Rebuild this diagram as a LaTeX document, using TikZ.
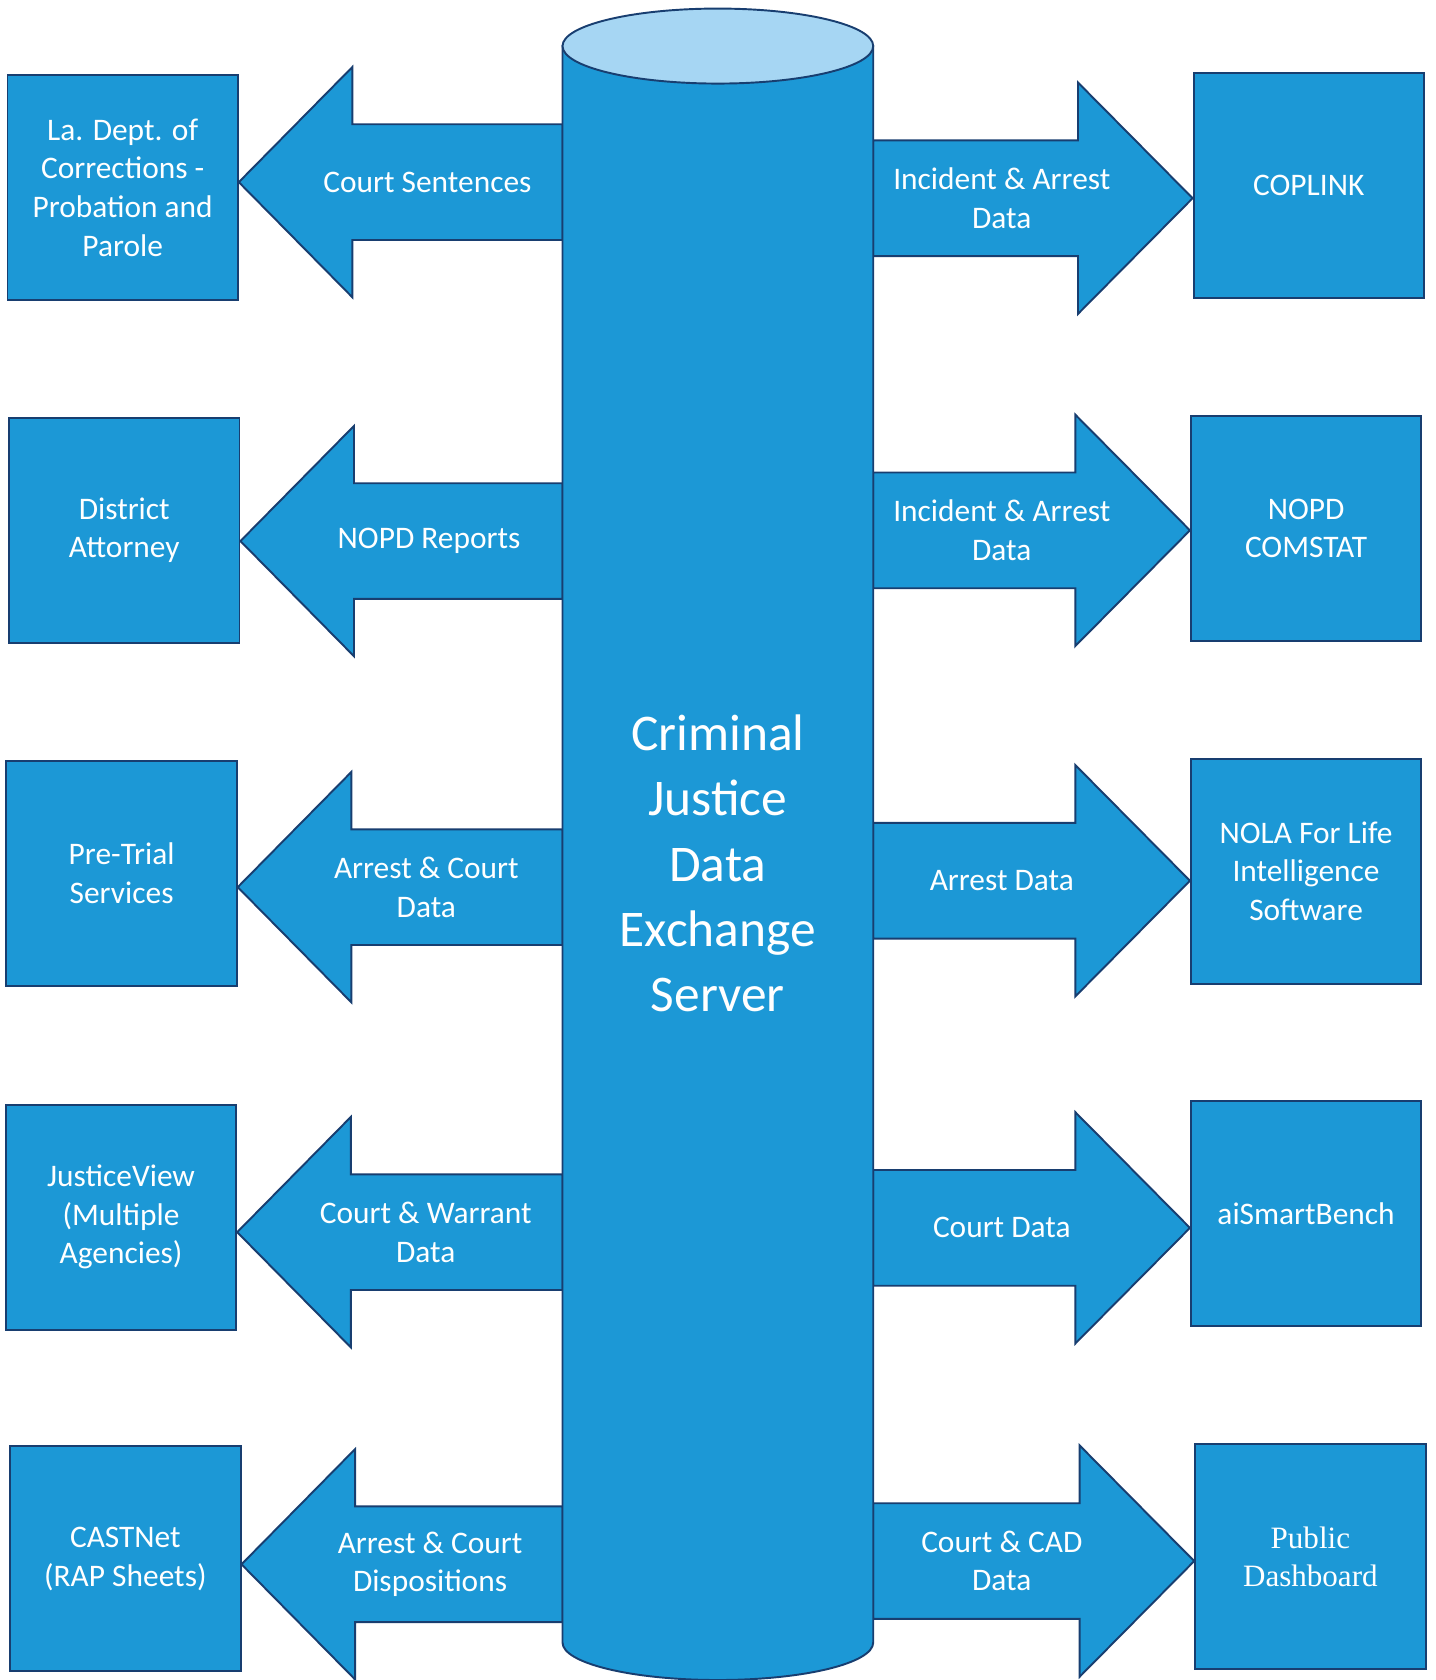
\documentclass[tikz,border=0pt]{standalone}
\usepackage{fontspec}
\setmainfont{Carlito}
\newfontfamily\dashfont{Liberation Serif}
\usetikzlibrary{calc,positioning}

\definecolor{cjblue}{RGB}{28,152,214}
\definecolor{cjedge}{RGB}{24,62,112}
\definecolor{cjtop}{RGB}{166,214,243}

\tikzset{
  agency/.style={draw=cjedge,line width=1.8pt,fill=cjblue,minimum width=215pt,
    minimum height=210pt,inner sep=0pt,align=center,text=white,
    font=\fontsize{29.3}{36}\selectfont},
  flow/.style={draw=cjedge,line width=1.8pt,fill=cjblue,line join=miter},
  flowlabel/.style={text=white,align=center,font=\fontsize{29.3}{36}\selectfont},
  cylbody/.style={draw=cjedge,line width=1.8pt,fill=cjblue},
  cyltop/.style={draw=cjedge,line width=1.8pt,fill=cjtop},
  serverlabel/.style={text=white,align=center,font=\fontsize{48}{61}\selectfont},
}

\begin{document}
\begin{tikzpicture}[x=1pt,y=-1pt]
  \useasboundingbox (0,0) rectangle (1340,1568);

  \coordinate (cyl_left) at (525,43);
  \coordinate (cyl_right) at (815,43);

  % agencies receiving data (left)
  \foreach \n/\xc/\yc/\txt in {1/114.5/175/{La. Dept. of\\Corrections -\\Probation and\\Parole},
      2/116/495/{District\\Attorney}, 3/113.5/815/{Pre-Trial\\Services},
      4/113/1136/{JusticeView\\(Multiple\\Agencies)}, 5/117/1455/{CASTNet\\(RAP Sheets)}}{
    \node [agency] at (\xc,\yc) (src_\n) {\txt};
  }

  % systems receiving data (right)
  \foreach \n/\xc/\yc/\txt in {1/1221.5/173/{COPLINK}, 2/1219/493/{NOPD\\COMSTAT},
      3/1219/813/{NOLA For Life\\Intelligence\\Software}, 4/1219/1133/{aiSmartBench}}{
    \node [agency] at (\xc,\yc) (dst_\n) {\txt};
  }
  \node [agency,font=\dashfont\fontsize{29}{36}\selectfont] at (1223,1453) (dst_5) {Public\\Dashboard};

  % block arrows to the left
  \foreach \n/\ly/\lab in {1/170/{Court Sentences}, 2/505/{NOPD Reports},
      3/828/{Arrest \& Court\\Data}, 4/1150/{Court \& Warrant\\Data},
      5/1460/{Arrest \& Court\\Dispositions}}{
    \draw [flow] (src_\n.east |- 0,\ly) -- ++(106,-107.5) -- ++(0,53.5)
      -- (cyl_left |- 0,\ly-54) -- (cyl_left |- 0,\ly+54)
      -- ($(src_\n.east |- 0,\ly)+(106,54)$) -- ++(0,53.5) -- cycle;
    \node [flowlabel] at ($(src_\n.east |- 0,\ly)+(176,0)$) (lab_l\n) {\lab};
  }

  % block arrows to the right
  \foreach \n/\ry/\lab in {1/185/{Incident \& Arrest\\Data}, 2/495/{Incident \& Arrest\\Data},
      3/822/{Arrest Data}, 4/1146/{Court Data}, 5/1457/{Court \& CAD\\Data}}{
    \draw [flow] (dst_\n.west |- 0,\ry) -- ++(-107,-108) -- ++(0,54)
      -- (cyl_right |- 0,\ry-54) -- (cyl_right |- 0,\ry+54)
      -- ($(dst_\n.west |- 0,\ry)+(-107,54)$) -- ++(0,54) -- cycle;
    \node [flowlabel] at ($(cyl_right |- 0,\ry)+(120,0)$) (lab_r\n) {\lab};
  }

  % the server
  \draw [cylbody] (cyl_left) -- (525,1533) arc[start angle=180,end angle=0,x radius=145,y radius=35]
    -- (cyl_right) -- cycle;
  \draw [cyltop] (670,43) ellipse [x radius=145,y radius=35];
  \node [serverlabel] at (670,806) (server) {Criminal\\Justice\\Data\\Exchange\\Server};
\end{tikzpicture}
\end{document}
